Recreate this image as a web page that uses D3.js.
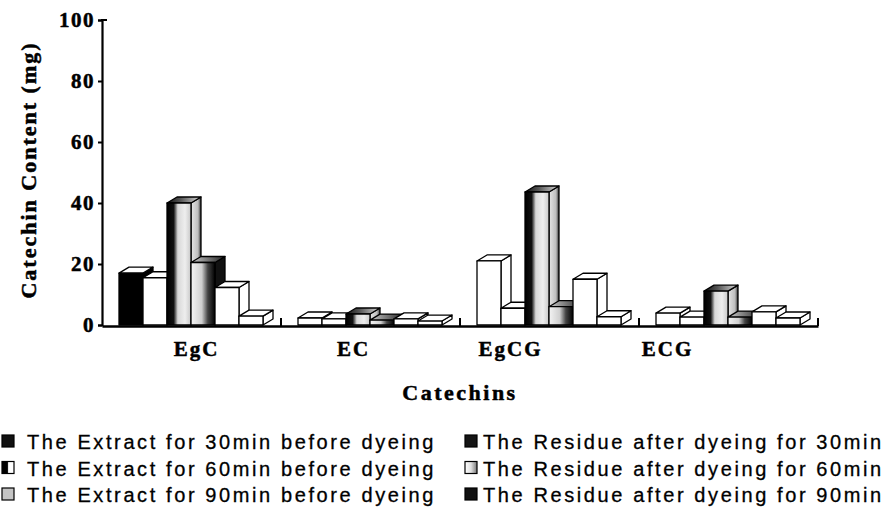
<!DOCTYPE html>
<html><head><meta charset="utf-8">
<script src="https://cdn.jsdelivr.net/npm/d3@7"></script>
<style>body{margin:0;background:#fff} svg{display:block}</style>
</head><body>
<svg id="chart" width="887" height="518"></svg>
<script>
// ---- data ----
const categories = ["EgC", "EC", "EgCG", "ECG"];
const seriesNames = [
  "The Extract for 30min before dyeing",
  "The Extract for 60min before dyeing",
  "The Extract for 90min before dyeing",
  "The Residue after dyeing for 30min",
  "The Residue after dyeing for 60min",
  "The Residue after dyeing for 90min"
];
const extract30 = [17.0, 2.3, 21.0, 3.9];
const extract60 = [15.5, 2.0, 5.5, 2.6];
const extract90 = [40.0, 3.6, 43.6, 11.1];
const residue30 = [20.5, 1.6, 6.0, 2.6];
const residue60 = [12.3, 2.0, 15.0, 4.3];
const residue90 = [2.9, 1.3, 2.7, 2.3];
const yTicks = [0, 20, 40, 60, 80, 100];
const xTitle = "Catechins";
const yTitle = "Catechin Content (mg)";

const seriesValues = [extract30, extract60, extract90, residue30, residue60, residue90];

// ---- styles ----
const seriesStyle = [
  {front: "#fff", side: "#fff", top: "#fff", legend: "#111"},
  {front: "#fff", side: "#fff", top: "#fff", legend: "url(#lg2)"},
  {front: "url(#g3front)", side: "url(#g3side)", top: "url(#g3top)", legend: "#c4c4c4"},
  {front: "url(#g4front)", side: "#111", top: "url(#g4top)", legend: "#151515"},
  {front: "#fff", side: "#fff", top: "#fff", legend: "url(#lg5)"},
  {front: "#fff", side: "#fff", top: "#fff", legend: "#111"}
];
const pointOverride = {"EgC|0": {front: "#000", side: "#000", top: "#fff"}};
const depthX = 10, depthY = 6;

const svg = d3.select("#chart");
const defs = svg.append("defs");
function grad(id, stops, x2 = "100%", y2 = "0%") {
  const g = defs.append("linearGradient").attr("id", id)
    .attr("x1", "0%").attr("y1", "0%").attr("x2", x2).attr("y2", y2);
  stops.forEach(([o, c]) => g.append("stop").attr("offset", o).attr("stop-color", c));
}
grad("g3front", [["0%", "#000"], ["28%", "#111"], ["45%", "#d8d8d8"], ["75%", "#eeeeee"], ["100%", "#c8c8c8"]]);
grad("g3side", [["0%", "#e6e6e6"], ["70%", "#bdbdbd"], ["100%", "#333"]]);
grad("g3top", [["0%", "#111"], ["40%", "#555"], ["100%", "#ddd"]]);
grad("g4front", [["0%", "#f4f4f4"], ["45%", "#cfcfcf"], ["70%", "#444"], ["100%", "#000"]]);
grad("g4top", [["0%", "#ccc"], ["100%", "#222"]]);
grad("lg2", [["0%", "#000"], ["45%", "#000"], ["55%", "#fff"], ["100%", "#fff"]]);
grad("lg5", [["0%", "#fff"], ["50%", "#e0e0e0"], ["100%", "#777"]]);

// ---- scales ----
const x0 = d3.scaleBand().domain(categories).range([102, 818]).padding(0);
const x1 = d3.scaleBand().domain(d3.range(seriesNames.length)).range([17, 161]).padding(0);
const xLabel = d3.scaleBand().domain(categories).range([117, 745]).padding(0);
const y = d3.scaleLinear().domain([0, 100]).range([325, 20]);

// ---- bars ----
const barsG = svg.append("g");
categories.forEach((cat, ci) => {
  seriesValues.forEach((vals, si) => {
    const v = vals[ci];
    const st = Object.assign({}, seriesStyle[si], pointOverride[cat + "|" + si] || {});
    const bx = x0(cat) + x1(si), w = x1.bandwidth();
    const yt = y(v), yb = y(0);
    const g = barsG.append("g").attr("stroke", "#000").attr("stroke-width", 1.3).attr("stroke-linejoin", "round");
    g.append("polygon").attr("fill", st.side)
      .attr("points", [[bx + w, yt], [bx + w + depthX, yt - depthY], [bx + w + depthX, yb - depthY], [bx + w, yb]].join(" "));
    g.append("polygon").attr("fill", st.top)
      .attr("points", [[bx, yt], [bx + depthX, yt - depthY], [bx + w + depthX, yt - depthY], [bx + w, yt]].join(" "));
    g.append("rect").attr("fill", st.front)
      .attr("x", bx).attr("y", yt).attr("width", w).attr("height", yb - yt);
  });
});

// ---- axes ----
const serif = "'Liberation Serif','Times New Roman',serif";
function heavy(sel) {
  return sel.attr("font-family", serif).attr("font-weight", "bold")
    .attr("fill", "#000").attr("stroke", "#000").attr("stroke-width", 0.5);
}
const yAxis = d3.axisLeft(y).tickValues(yTicks).tickSize(4).tickPadding(3);
const yG = svg.append("g").attr("transform", "translate(102,0)").call(yAxis);
yG.select(".domain").attr("stroke-width", 2.2);
yG.selectAll(".tick line").attr("stroke-width", 2);
heavy(yG.selectAll(".tick text")).attr("font-size", 21).attr("letter-spacing", "1.5px");
// small hook at the top of the value axis
svg.append("line").attr("x1", 101).attr("x2", 107).attr("y1", y(100)).attr("y2", y(100))
  .attr("stroke", "#000").attr("stroke-width", 2);

const xAxis = d3.axisBottom(x0).tickSize(0).tickFormat("");
const xG = svg.append("g").attr("transform", "translate(0,326)").call(xAxis);
xG.select(".domain").attr("stroke-width", 2.6);
// boundary ticks (upward)
svg.append("g").selectAll("line").data(categories).join("line")
  .attr("x1", d => x0(d) + x0.bandwidth()).attr("x2", d => x0(d) + x0.bandwidth())
  .attr("y1", 326).attr("y2", 318).attr("stroke", "#000").attr("stroke-width", 2);

// category labels
heavy(svg.append("g").selectAll("text").data(categories).join("text")
  .attr("x", d => xLabel(d) + xLabel.bandwidth() / 2 + 1).attr("y", 356)
  .attr("text-anchor", "middle").attr("font-size", 21).attr("letter-spacing", "2px").text(d => d));

// axis titles
heavy(svg.append("text").attr("x", 460).attr("y", 400).attr("text-anchor", "middle")
  .attr("font-size", 22).attr("letter-spacing", "2.5px").text(xTitle));
heavy(svg.append("text").attr("transform", "translate(36,170) rotate(-90)").attr("text-anchor", "middle")
  .attr("font-size", 22).attr("letter-spacing", "2px").text(yTitle));

// ---- legend ----
const sans = "'Liberation Sans',Arial,sans-serif";
const legCols = [[2, 27], [465, 483]];
const legRows = [449, 475.5, 502];
const leg = svg.append("g");
seriesNames.forEach((name, i) => {
  const col = Math.floor(i / 3), row = i % 3;
  const [mx, tx] = legCols[col];
  const by = legRows[row];
  leg.append("rect").attr("x", mx).attr("y", by - 14).attr("width", 12).attr("height", 12)
    .attr("fill", seriesStyle[i].legend).attr("stroke", "#000").attr("stroke-width", 1.2);
  leg.append("text").attr("x", tx).attr("y", by).attr("font-family", sans)
    .attr("font-size", 20).attr("letter-spacing", "2.6px").attr("fill", "#000")
    .attr("stroke", "#000").attr("stroke-width", 0.3).text(name);
});
</script>
</body></html>
